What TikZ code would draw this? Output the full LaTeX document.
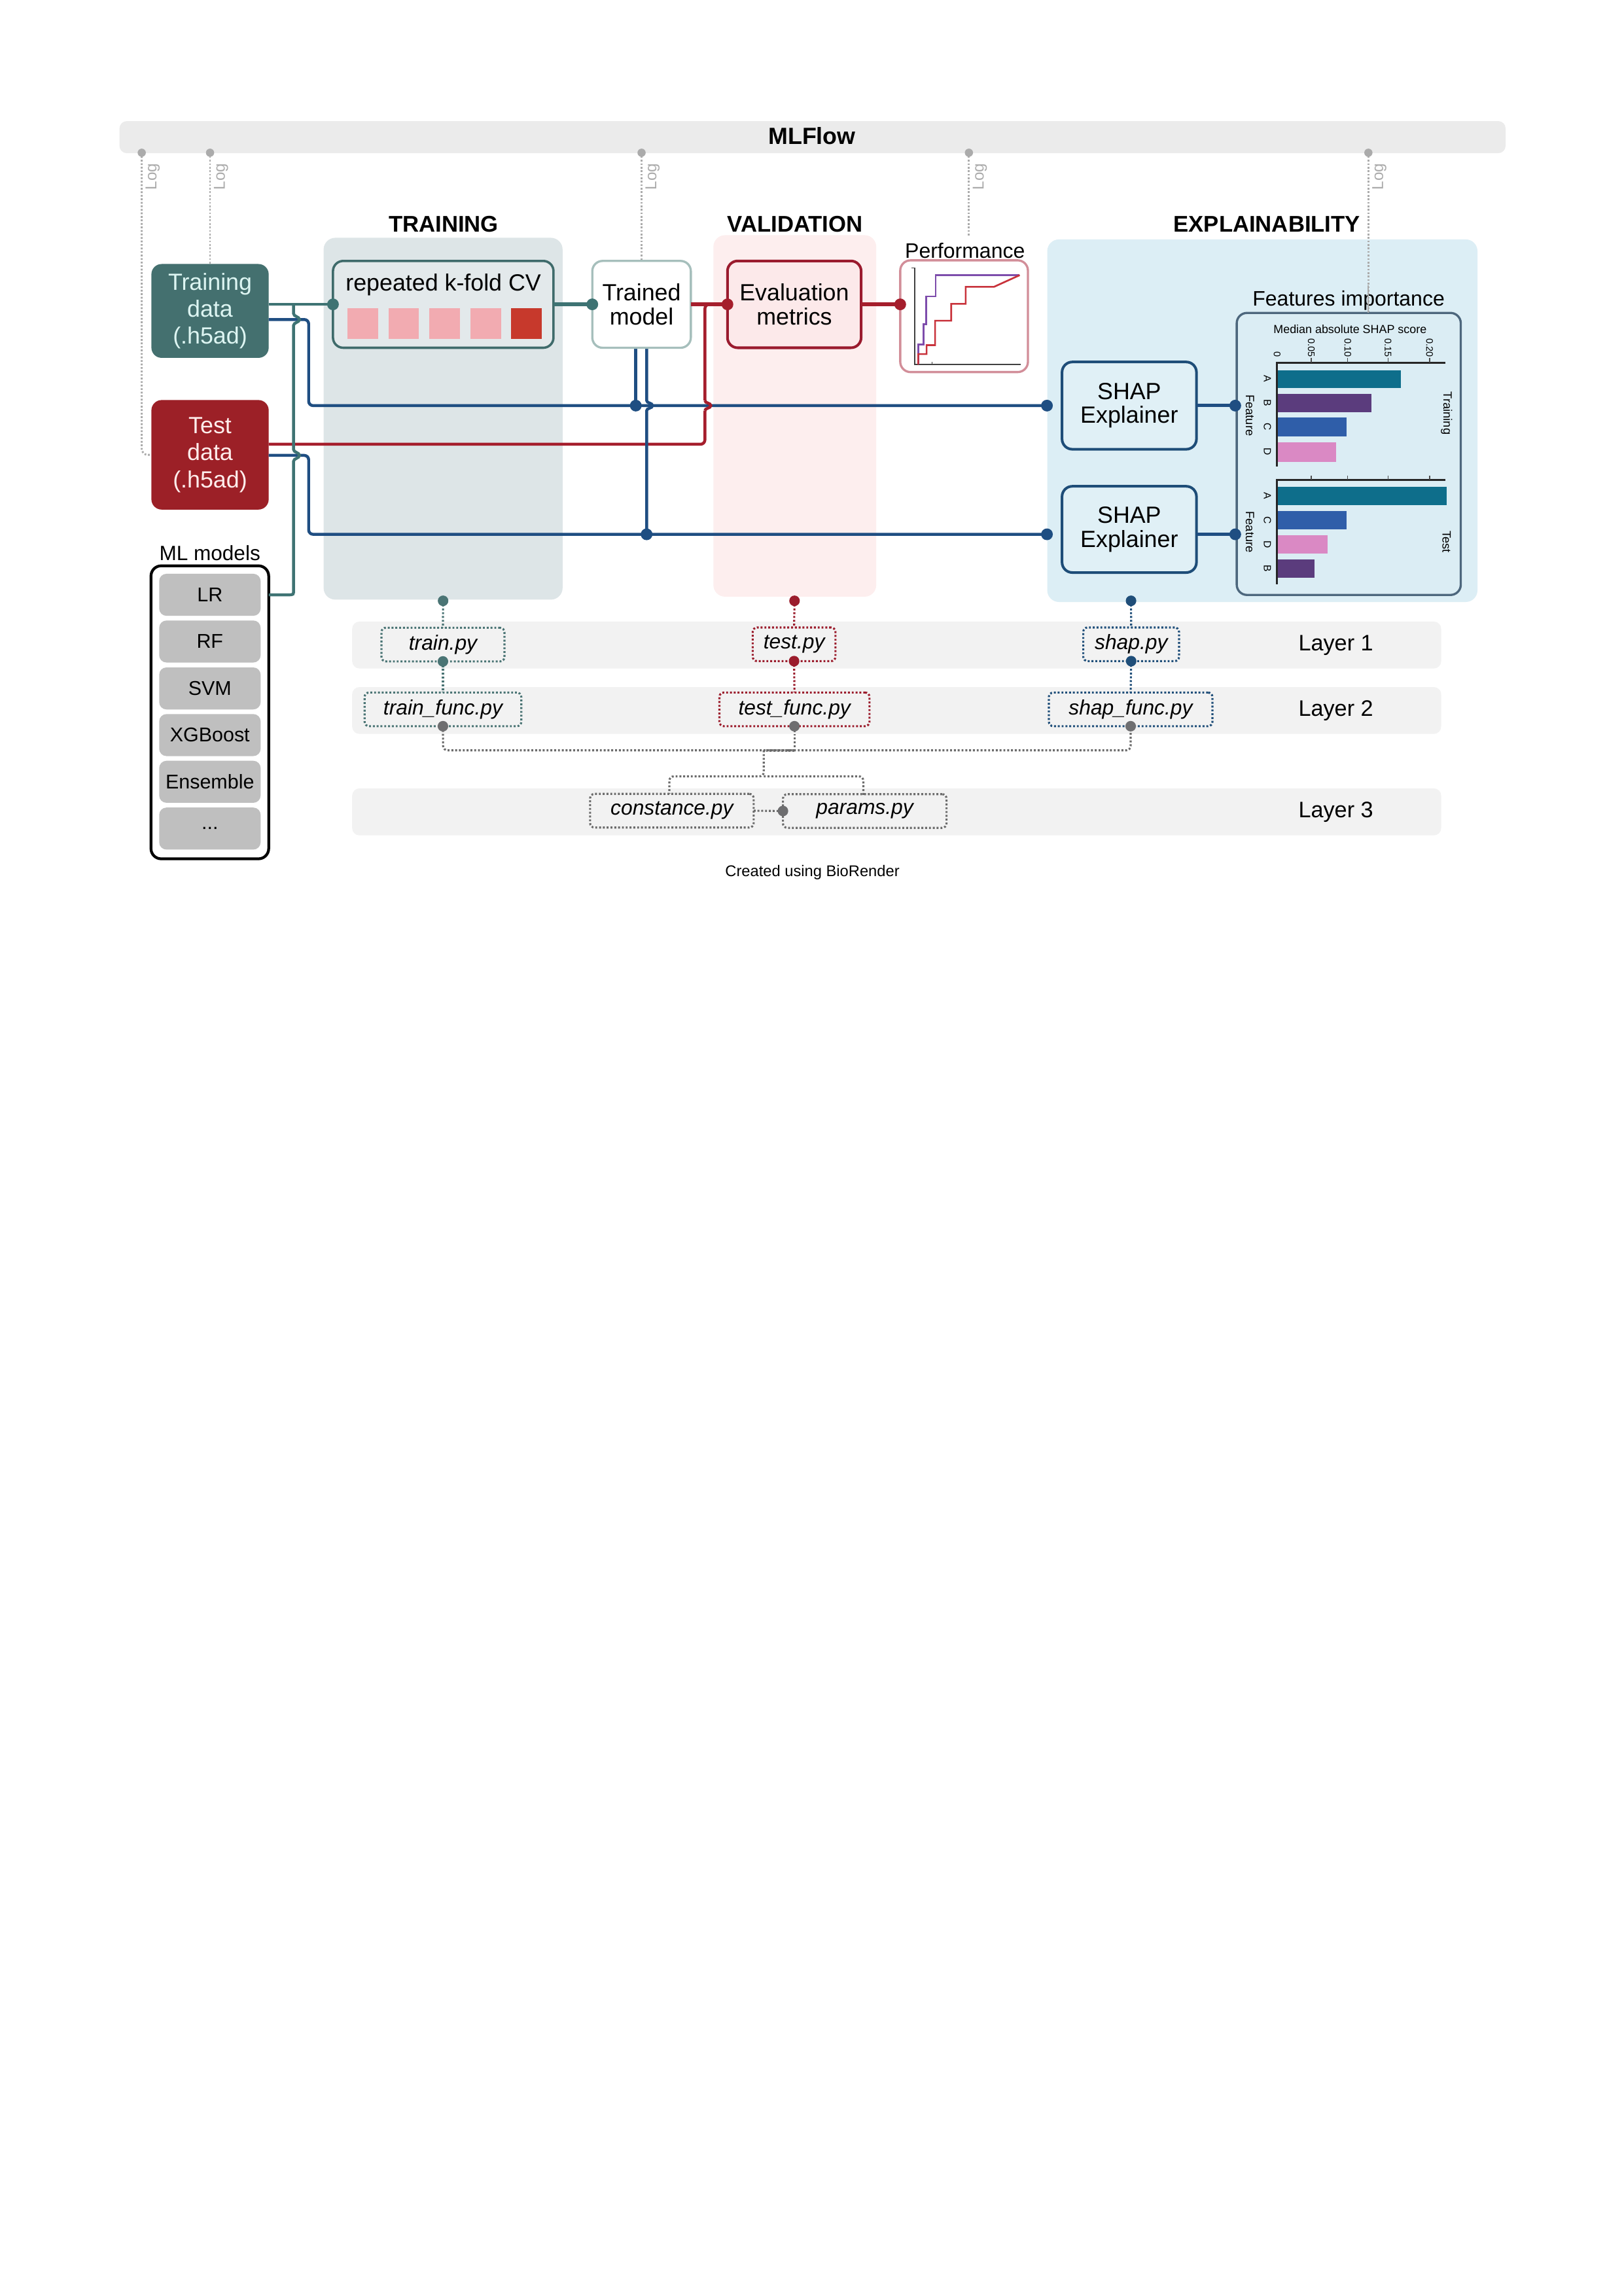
\documentclass[tikz,border=0pt]{standalone}
\usepackage{fontspec}
\setmainfont{Liberation Sans}
\newcommand\myfs[2]{\fontsize{#1}{#2}\selectfont}
\definecolor{tealD}{HTML}{44706F}
\definecolor{tealL}{HTML}{3E7373}
\definecolor{redD}{HTML}{9C2027}
\definecolor{redL}{HTML}{A51E2C}
\definecolor{blueL}{HTML}{1F4E82}
\definecolor{trainP}{HTML}{DDE5E7}
\definecolor{valP}{HTML}{FDEEEE}
\definecolor{expP}{HTML}{DCEEF5}
\definecolor{mlbar}{HTML}{EBEBEB}
\definecolor{rowC}{HTML}{F2F2F2}
\definecolor{itemC}{HTML}{BFBFBF}
\definecolor{logC}{HTML}{ABABAB}
\definecolor{cvBorder}{HTML}{3F6B6B}
\definecolor{cvFill}{HTML}{E3E9EB}
\definecolor{trBorder}{HTML}{A6BFBC}
\definecolor{evBorder}{HTML}{9A1B2E}
\definecolor{evFill}{HTML}{FCE9EA}
\definecolor{pfBorder}{HTML}{D28E99}
\definecolor{shBorder}{HTML}{1E4D78}
\definecolor{shFill}{HTML}{E0F0F6}
\definecolor{chBorder}{HTML}{4D677D}
\definecolor{chFill}{HTML}{DBEDF4}
\definecolor{barA}{HTML}{0E6E8B}
\definecolor{barB}{HTML}{5B3C7D}
\definecolor{barC}{HTML}{2F5EA9}
\definecolor{barD}{HTML}{DA89C4}
\definecolor{sqPink}{HTML}{F2ABB1}
\definecolor{sqRed}{HTML}{C7392C}
\definecolor{grayDot}{HTML}{6E6E70}
\definecolor{pfPurple}{HTML}{7D4CAB}
\definecolor{pfRed}{HTML}{C8323B}
\definecolor{trText}{HTML}{DDF5F2}
\definecolor{teText}{HTML}{FFEDEC}
\definecolor{scTeal}{HTML}{4A7474}
\definecolor{scRed}{HTML}{9B1C2C}
\definecolor{scBlue}{HTML}{1F4E79}
\definecolor{scGray}{HTML}{6B6B6B}
\begin{document}
\begin{tikzpicture}[x=1pt,y=-1pt]
\tikzset{
  every node/.style={inner sep=0pt, outer sep=0pt},
  blueline/.style={draw=blueL, line width=2pt},
  tealline/.style={draw=tealL, line width=2pt},
  redline/.style={draw=redL, line width=2pt},
  logline/.style={draw=logC, line width=1.3pt, dash pattern=on 1.2pt off 1.2pt},
  conn/.style={line width=1.4pt, dash pattern=on 1.3pt off 1.3pt},
  script/.style={draw, conn, rounded corners=3pt, font=\myfs{14.2}{16}\itshape, minimum height=23pt},
  logtext/.style={rotate=90, text=logC, font=\myfs{10.8}{12}},
  titletext/.style={font=\myfs{15.5}{18}\bfseries},
  item/.style={fill=itemC, rounded corners=5pt, minimum width=69.3pt, minimum height=28.7pt, font=\myfs{13.6}{15}},
  layerrow/.style={fill=rowC, rounded corners=5pt, minimum width=743.7pt, minimum height=32pt},
  layertext/.style={font=\myfs{15.3}{17}},
  axlabel/.style={rotate=-90, font=\myfs{8.2}{9}},
  ticklabel/.style={rotate=-90, anchor=east, font=\myfs{6.5}{7}},
  barlabel/.style={rotate=-90, font=\myfs{7}{8}},
  bigbox/.style={rounded corners=7pt, align=center},
}
\useasboundingbox[fill=white] (0,0) rectangle (1109.06,1568);

% ---------- backgrounds ----------
\node[fill=mlbar, rounded corners=5pt, minimum width=946.6pt, minimum height=21.9pt] (mlflow) at (554.9,93.65) {};
\node[font=\myfs{16}{18}\bfseries] (mlflowtext) at (554.5,92.8) {MLFlow};

\node[fill=trainP, rounded corners=8pt, minimum width=163.2pt, minimum height=247.1pt] (trainpanel) at (302.6,285.95) {};
\node[fill=valP, rounded corners=8pt, minimum width=111.2pt, minimum height=246.9pt] (valpanel) at (542.8,284.05) {};
\node[fill=expP, rounded corners=8pt, minimum width=293.8pt, minimum height=247.6pt] (exppanel) at (862.1,287.3) {};

\node[titletext] (ttrain) at (303,153.1) {TRAINING};
\node[titletext] (tval) at (543,153.1) {VALIDATION};
\node[titletext] (texp) at (865.2,153.1) {EXPLAINABILITY};

\node[layerrow] (row1) at (612.35,440.5) {};
\node[layerrow] (row2) at (612.35,485.2) {};
\node[layerrow, minimum height=32.1pt] (row3) at (612.35,554.45) {};
\node[layertext] (l1) at (912.3,440.5) {Layer 1};
\node[layertext] (l2) at (912.3,485.2) {Layer 2};
\node[layertext] (l3) at (912.3,554.45) {Layer 3};

% ---------- main boxes ----------
\node[bigbox, fill=tealD, text=trText, minimum width=80.1pt, minimum height=64.1pt, font=\myfs{16}{18.5}] (traindata) at (143.45,212.35) {Training\\data\\(.h5ad)};
\node[bigbox, fill=redD, text=teText, minimum width=80.1pt, minimum height=74.8pt, font=\myfs{16}{18.5}] (testdata) at (143.45,310.6) {Test\\data\\(.h5ad)};

\node[font=\myfs{14.1}{16}] (mllabel) at (143.3,377.5) {ML models};
\node[draw=black, line width=1.9pt, fill=white, rounded corners=7pt, minimum width=80.4pt, minimum height=200.1pt] (mlmodels) at (143.3,486.45) {};
\node[item] (m1) at (143.35,406.2) {LR};
\node[item] (m2) at (143.35,438.1) {RF};
\node[item] (m3) at (143.35,470.15) {SVM};
\node[item] (m4) at (143.35,502) {XGBoost};
\node[item] (m5) at (143.35,533.9) {Ensemble};
\node[item] (m6) at (143.35,565.85) {...};

% ---------- log lines ----------
\coordinate (log1) at (96.8,104.3);
\coordinate (log2) at (143.45,104.3);
\coordinate (log3) at (438.15,104.3);
\coordinate (log4) at (661.7,104.3);
\coordinate (log5) at (934.5,104.3);
\coordinate (perfTop) at (661.7,161.6);
\draw[logline, rounded corners=4pt] (log1) |- (testdata.west);
\draw[logline] (log2) -- (traindata.north);
\draw[logline] (log3) -- (438.15,178.2);
\draw[logline] (log4) -- (perfTop);
\draw[logline] (log5) -- (934.5,213.7);
\foreach \p in {log1,log2,log3,log4,log5}{\fill[logC] (\p) circle (2.8pt);}
\node[logtext] (lt1) at (104.3,120.6) {Log};
\node[logtext] (lt2) at (150.9,120.6) {Log};
\node[logtext] (lt3) at (445.6,120.6) {Log};
\node[logtext] (lt4) at (669.2,120.6) {Log};
\node[logtext] (lt5) at (942,120.6) {Log};

% ---------- connector lines ----------
\coordinate (s1L) at (715,277);
\coordinate (s2L) at (715,364.9);
\draw[blueline, rounded corners=3pt] (traindata.east |- 0,218.2) -- (210.8,218.2) -- (210.8,277) -- (s1L);
\draw[blueline, rounded corners=3pt] (traindata.east |- 0,311) -- (210.8,311) -- (210.8,364.9) -- (s2L);

\draw[redline, rounded corners=3pt] (testdata.east |- 0,303.4) -- (481.4,303.4) -- (481.4,280.5);
\draw[redline] (481.4,280.5) .. controls (481.4,278.5) and (485.4,279) .. (485.4,277) .. controls (485.4,275) and (481.4,275.5) .. (481.4,273.5);
\draw[redline, rounded corners=3pt] (481.4,273.5) -- (481.4,207.85) -- (496.8,207.85);

\draw[tealline] (traindata.east |- 0,207.85) -- (227.4,207.85);
\draw[tealline] (200.5,207.85) -- (200.5,214.2) .. controls (200.5,216.2) and (204.5,216.2) .. (204.5,218.2) .. controls (204.5,220.2) and (200.5,220.2) .. (200.5,222.2) -- (200.5,307) .. controls (200.5,309) and (204.5,309) .. (204.5,311) .. controls (204.5,313) and (200.5,313) .. (200.5,315) -- (200.5,402.7) .. controls (200.5,406.2) .. (197,406.2) -- (mlmodels.east |- m1);

\draw[blueline] (434.2,237.5) -- (434.2,277);
\draw[blueline] (441.6,237.5) -- (441.6,273.5) .. controls (441.6,275.5) and (445.6,275) .. (445.6,277) .. controls (445.6,279) and (441.6,278.5) .. (441.6,280.5) -- (441.6,364.9);

% ---------- boxes on lines ----------
\node[draw=cvBorder, fill=cvFill, line width=1.6pt, rounded corners=7pt, minimum width=150.6pt, minimum height=59.3pt] (cv) at (302.7,207.85) {};
\node[font=\myfs{16}{18}] (cvlabel) at (302.8,194.4) {repeated k-fold CV};
\fill[sqPink] (237.4,210.6) rectangle (258.3,231.3);
\fill[sqPink] (265.3,210.6) rectangle (286.2,231.3);
\fill[sqPink] (293.2,210.6) rectangle (314.2,231.3);
\fill[sqPink] (321.2,210.6) rectangle (342.1,231.3);
\fill[sqRed] (349.1,210.6) rectangle (370,231.3);

\node[bigbox, draw=trBorder, fill=white, line width=1.5pt, minimum width=67.3pt, minimum height=59.3pt, font=\myfs{16}{16.2}] (trained) at (438.15,207.85) {Trained\\model};
\node[bigbox, draw=evBorder, fill=evFill, line width=1.8pt, minimum width=91.3pt, minimum height=59.3pt, font=\myfs{16}{16.2}] (eval) at (542.45,207.85) {Evaluation\\metrics};
\node[draw=pfBorder, fill=white, line width=1.5pt, rounded corners=7pt, minimum width=87.2pt, minimum height=76.3pt] (perf) at (658.4,215.95) {};
\node[font=\myfs{14.3}{16}] (perflabel) at (659,171.3) {Performance};

\draw[tealline, line width=2.6pt] (cv.east) -- (trained.west);
\draw[redline, line width=2.4pt] (trained.east) -- (eval.west);
\draw[redline, line width=2.8pt] (eval.east) -- (perf.west |- eval.east);

\draw[black!75, line width=1pt] (624.6,182.9) -- (624.6,249) -- (697.2,249);
\draw[black!75, line width=0.6pt] (622.6,182.9) -- (624.6,182.9);
\draw[black!75, line width=0.6pt] (636.5,249) -- (636.5,247);
\draw[pfPurple, line width=1.2pt] (627.1,249) -- (627.1,235.2) -- (630.6,235.2) -- (630.6,221.4) -- (632.6,221.4) -- (632.6,202.4) -- (639,202.4) -- (639,187.9) -- (696.4,187.9);
\draw[pfRed, line width=1.2pt] (627.1,249) -- (627.1,241.8) -- (632.8,241.8) -- (632.8,235.7) -- (638.6,235.7) -- (638.6,219) -- (649.6,219) -- (649.6,207.5) -- (659.5,207.5) -- (659.5,195.9) -- (678.8,195.9) -- (696.4,187.9);

\node[bigbox, draw=shBorder, fill=shFill, line width=1.8pt, minimum width=91.8pt, minimum height=59.6pt, font=\myfs{16}{16.3}] (shap1) at (771.2,277) {SHAP\\Explainer};
\node[bigbox, draw=shBorder, fill=shFill, line width=1.8pt, minimum width=91.8pt, minimum height=58.9pt, font=\myfs{16}{16.3}] (shap2) at (771.2,361.55) {SHAP\\Explainer};

\node[font=\myfs{14.3}{16}] (filabel) at (921,205.2) {Features importance};
\node[draw=chBorder, fill=chFill, line width=1.5pt, rounded corners=7pt, minimum width=153pt, minimum height=192.6pt] (chart) at (921.1,310) {};
\draw[logC, line width=0.8pt] (934.5,195) -- (934.5,213.7);
\coordinate (s1R) at (843.6,277);
\coordinate (s2R) at (843.6,364.9);
\draw[blueline, line width=2.2pt] (shap1.east) -- (s1R);
\draw[blueline, line width=2.2pt] (shap2.east |- s2R) -- (s2R);

\node[font=\myfs{8}{9}] (shaptitle) at (922,224.6) {Median absolute SHAP score};
\node[ticklabel] at (872.2,244) {0};
\node[ticklabel] at (895.5,244) {0.05};
\node[ticklabel] at (920.4,244) {0.10};
\node[ticklabel] at (947.9,244) {0.15};
\node[ticklabel] at (976.3,244) {0.20};

\fill[barA] (872.2,252.8) rectangle (956.9,264.8);
\fill[barB] (872.2,268.8) rectangle (936.8,281.5);
\fill[barC] (872.2,285.2) rectangle (919.6,297.9);
\fill[barD] (872.2,301.9) rectangle (912.4,315.3);
\fill[barA] (872.2,332.4) rectangle (987.9,345.1);
\fill[barC] (872.2,349) rectangle (919.6,361.5);
\fill[barD] (872.2,365.4) rectangle (906.5,378);
\fill[barB] (872.2,382) rectangle (897.5,394.7);

\draw[black!85, line width=1.3pt] (987.3,247.6) -- (872.2,247.6) -- (872.2,318.6);
\draw[black!85, line width=1.3pt] (987.3,327.7) -- (872.2,327.7) -- (872.2,399.2);
\foreach \t in {895.5,920.4,947.9,976.3}{
  \draw[black!70, line width=0.6pt] (\t,244.6) -- (\t,247.6);
  \draw[black!70, line width=0.6pt] (\t,324.7) -- (\t,327.7);
}
\node[barlabel] at (865.5,258.8) {A};
\node[barlabel] at (865.5,275.2) {B};
\node[barlabel] at (865.5,291.6) {C};
\node[barlabel] at (865.5,308.6) {D};
\node[barlabel] at (865.5,338.8) {A};
\node[barlabel] at (865.5,355.2) {C};
\node[barlabel] at (865.5,371.7) {D};
\node[barlabel] at (865.5,388.4) {B};
\node[axlabel] at (853.6,283.7) {Feature};
\node[axlabel] at (853.6,363.3) {Feature};
\node[axlabel] at (987.9,282.2) {Training};
\node[axlabel] at (987.9,370) {Test};

% ---------- dots ----------
\fill[tealL] (cv.west) circle (4pt);
\fill[tealL] (trained.west) circle (4pt);
\fill[redL] (eval.west) circle (4pt);
\fill[redL] (perf.west |- eval.east) circle (4pt);
\fill[blueL] (434.2,277) circle (4pt);
\fill[blueL] (441.6,364.9) circle (4pt);
\foreach \p in {s1L,s2L,s1R,s2R}{\fill[blueL] (\p) circle (4pt);}

% ---------- scripts ----------
\node[script, draw=scTeal, minimum width=84pt] (trainpy) at (302.5,440.2) {train.py};
\node[script, draw=scTeal, minimum width=107pt] (trainfunc) at (302.5,484.45) {train\_func.py};
\node[script, draw=scRed, minimum width=56.5pt] (testpy) at (542.3,440) {test.py};
\node[script, draw=scRed, minimum width=102.5pt] (testfunc) at (542.55,484.45) {test\_func.py};
\node[script, draw=scBlue, minimum width=65.4pt] (shappy) at (772.5,440) {shap.py};
\node[script, draw=scBlue, minimum width=111.7pt] (shapfunc) at (772.15,484.45) {shap\_func.py};
\node[script, draw=scGray, minimum width=111.7pt] (constance) at (458.85,553.65) {constance.py};
\node[script, draw=scGray, minimum width=111.7pt] (params) at (590.55,553.85) {params.py};

\coordinate (dTrain) at (302.6,410.3);
\coordinate (dVal) at (542.6,410.3);
\coordinate (dExp) at (772.4,410.3);
\draw[conn, draw=scTeal] (dTrain) -- (trainpy.north);
\draw[conn, draw=scTeal] (trainpy.south) -- (trainfunc.north);
\draw[conn, draw=scRed] (dVal) -- (testpy.north);
\draw[conn, draw=scRed] (testpy.south) -- (testfunc.north);
\draw[conn, draw=scBlue] (dExp) -- (shappy.north);
\draw[conn, draw=scBlue] (shappy.south) -- (shapfunc.north);

\coordinate (jA) at (302.6,512.4);
\coordinate (jB) at (772.15,512.4);
\coordinate (jC) at (542.55,512.4);
\coordinate (jD) at (521.6,512.4);
\coordinate (jE) at (521.6,530.2);
\draw[conn, draw=scGray, rounded corners=3pt] (trainfunc.south) -- (jA) -- (jB) -- (shapfunc.south);
\draw[conn, draw=scGray] (testfunc.south) -- (jC);
\draw[conn, draw=scGray, line width=1.8pt] (jC) -- (jD);
\draw[conn, draw=scGray, rounded corners=3pt] (jD) -- (jE) -- (457.1,530.2) -- (457.1,542.1);
\draw[conn, draw=scGray, rounded corners=3pt] (jE) -- (589.6,530.2) -- (589.6,542.9);
\draw[conn, draw=scGray] (constance.east) -- (params.west);

\fill[scTeal] (dTrain) circle (3.6pt);
\fill[scRed] (dVal) circle (3.6pt);
\fill[scBlue] (dExp) circle (3.6pt);
\fill[scTeal] (trainpy.south) circle (3.6pt);
\fill[scRed] (testpy.south) circle (3.6pt);
\fill[scBlue] (shappy.south) circle (3.6pt);
\fill[grayDot] (trainfunc.south) circle (3.6pt);
\fill[grayDot] (testfunc.south) circle (3.6pt);
\fill[grayDot] (shapfunc.south) circle (3.6pt);
\fill[grayDot] (params.west) circle (3.6pt);

\node[font=\myfs{10.6}{12}] (credit) at (554.8,595.8) {Created using BioRender};
\end{tikzpicture}
\end{document}
